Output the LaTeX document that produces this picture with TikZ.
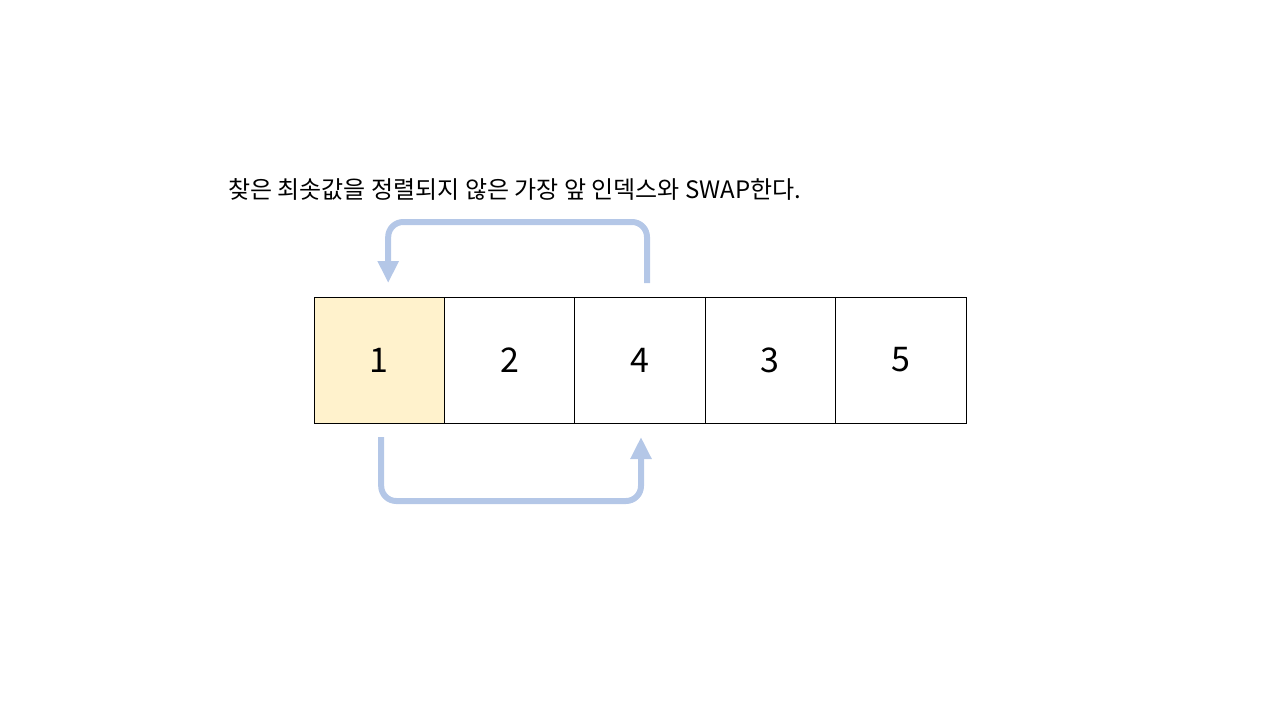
\documentclass[tikz,border=0pt]{standalone}
\usepackage{fontspec}
\setmainfont{Noto Sans CJK KR}
\usepackage{tikz}
\usetikzlibrary{arrows.meta,positioning}
\definecolor{swapblue} {HTML}{B4C7E7}
\definecolor{minyellow}{HTML}{FFF2CC}

\begin{document}
\begin{tikzpicture}[x=1pt,y=-1pt,
  cell/.style={draw=black,line width=0.9pt,minimum width=130.4pt,minimum height=126pt,
               inner sep=0pt,outer sep=0pt,font=\fontsize{34}{40}\selectfont},
  swp/.style={-{Triangle[length=22pt,width=20pt]},draw=swapblue,line width=6pt,rounded corners=15pt},
  note/.style={anchor=base west,inner sep=0pt,font=\fontsize{24}{28}\selectfont}
]
\useasboundingbox (0,0) rectangle (1280,720);

\node[note] (N) at (228,198) {찾은 최솟값을 정렬되지 않은 가장 앞 인덱스와 SWAP한다.};

\node[cell,fill=minyellow] (c1) at (379.2,360) {1};
\node[cell,right=0pt of c1] (c2) {2};
\node[cell,right=0pt of c2] (c3) {4};
\node[cell,right=0pt of c3] (c4) {3};
\node[cell,right=0pt of c4] (c5) {5};

\draw[swp] ([xshift=7pt,yshift=14pt]c3.north) -- ++(0,-61) -| ([xshift=9pt,yshift=14pt]c1.north);
\draw[swp] ([xshift=2pt,yshift=-14pt]c1.south) -- ++(0,64) -| ([xshift=1pt,yshift=-14pt]c3.south);
\end{tikzpicture}
\end{document}
